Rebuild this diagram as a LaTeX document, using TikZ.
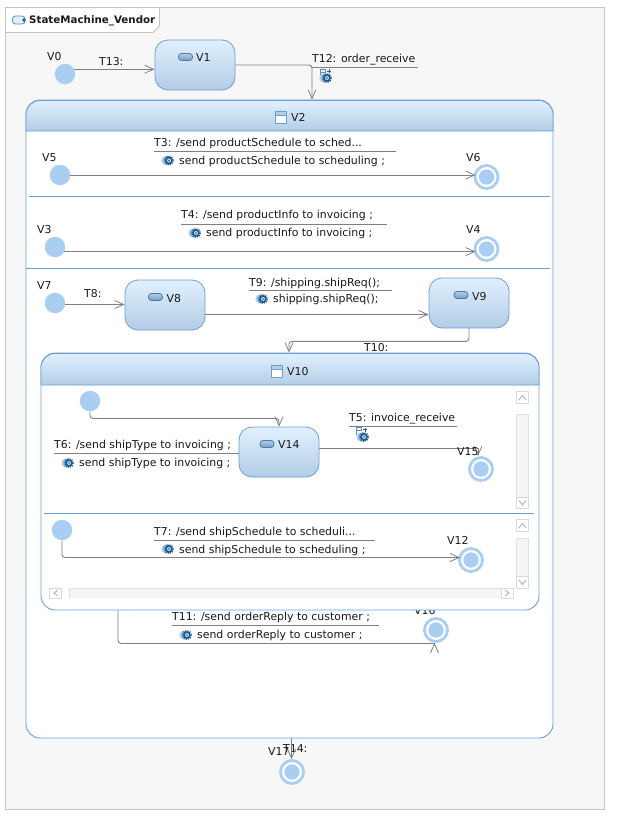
\documentclass[tikz,border=0pt]{standalone}
\usepackage{fontspec}
\setmainfont{DejaVu Sans}
\usetikzlibrary{arrows.meta,calc}
\definecolor{edgeblue}{HTML}{6C9FD6}
\definecolor{fillblue}{HTML}{AACDF2}
\definecolor{gradtop}{HTML}{E1F0FF}
\definecolor{gradbot}{HTML}{B2CDE6}
\definecolor{linegrey}{HTML}{808080}
\definecolor{pagegrey}{HTML}{F7F7F7}
\definecolor{framegrey}{HTML}{C4C4C4}
\definecolor{geardark}{HTML}{1C5A94}
\definecolor{gearlight}{HTML}{94BADB}
\tikzset{
  x=1pt,y=-1pt,
  lbl/.style={anchor=base west,inner sep=0pt,font=\fontsize{10.9}{12}\selectfont,text=black!90},
  initstate/.style={circle,fill=fillblue,minimum size=20.5pt,inner sep=0pt},
  finalstate/.style={circle,draw=fillblue,line width=2.8pt,fill=white,minimum size=23pt,inner sep=0pt,
     path picture={\fill[fillblue] (path picture bounding box.center) circle[radius=7.7pt];}},
  simple/.style={draw=edgeblue,line width=.8pt,rounded corners=13pt,top color=gradtop,bottom color=gradbot,minimum width=80pt,minimum height=50pt,inner sep=0pt},
  region/.style={draw=edgeblue,line width=.9pt,rounded corners=14pt,fill=white,inner sep=0pt},
  header/.style={draw=edgeblue,line width=.8pt,top color=gradtop,bottom color=gradbot},
  trans/.style={draw=linegrey,line width=.9pt,rounded corners=3pt,-{Straight Barb[length=9pt,width=8pt,line width=.8pt]}},
  rulel/.style={draw=linegrey,line width=.9pt},
  divider/.style={draw=edgeblue,line width=.8pt},
  sbtrack/.style={draw=black!12,fill=black!4,line width=.8pt},
  sbbtn/.style={draw=black!15,fill=white,line width=.8pt},
  sbglyph/.style={draw=black!25,line width=1.2pt},
  gear/.pic={
    \fill[gearlight!60] (-3.4,0) circle[radius=4.4];
    \fill[gearlight] (-1.8,0) circle[radius=4.6];
    \fill[geardark] (0,0) circle[radius=3.9];
    \draw[geardark,line width=1.2pt,dash pattern=on 1.1pt off 1.2pt] (0,0) circle[radius=4.4];
    \fill[gearlight!50] (0,0) circle[radius=2];
    \fill[geardark] (0,0) circle[radius=.9];
  },
  flagicon/.pic={
    \draw[geardark!70,line width=.7pt] (-5,5) -- (-5,-2) -- (0,-2) -- (0,1) -- (-5,1);
    \draw[geardark,line width=.8pt] (2,0) -- (6,0) (4,-2) -- (4,2);
  },
  stateicon/.pic={
    \draw[draw=geardark!80,top color=gradbot,bottom color=geardark!60,rounded corners=3pt,line width=.8pt] (-7,-3.5) rectangle (7,3.5);
  },
  regionicon/.pic={
    \draw[edgeblue,fill=white,line width=.8pt] (-5.5,-6) rectangle (5.5,6);
    \fill[gradbot] (-5,-5.5) rectangle (5,-2);
    \draw[edgeblue,line width=.8pt] (-5.5,-2) -- (5.5,-2);
  }
}
\begin{document}
\begin{tikzpicture}
\useasboundingbox (0,0) rectangle (617,820);
\fill[white] (0,0) rectangle (617,820);
% outer canvas
\draw[framegrey,fill=pagegrey,line width=.8pt] (5.5,7.5) rectangle (604.5,809.5);
\draw[framegrey,fill=white,line width=.8pt] (5.5,7.5) -- (159.5,7.5) -- (159.5,26) -- (153,32.5) -- (5.5,32.5) -- cycle;
\draw[draw=geardark!70,fill=gradtop,rounded corners=3pt,line width=.8pt] (12.5,16) rectangle (25,24);
\fill[geardark] (24,20) circle[radius=1.8];
\node[lbl,font=\fontsize{10.3}{12}\selectfont\bfseries] (title) at (29,23) {StateMachine\_Vendor};

% top-level states
\node[initstate] (V0) at (65,74) {};
\node[lbl] (V0l) at (47,60) {V0};
\node[simple] (V1) at (195,65) {};
\pic at (185.5,57) {stateicon};
\node[lbl] (V1l) at (196,61) {V1};

% V2 region
\node[region,minimum width=527pt,minimum height=638pt] (V2) at (289.5,419) {};
\draw[header] (26,131) [rounded corners=14pt] -- (26,100.5) -- (553,100.5) [sharp corners] -- (553,131) -- cycle;
\pic at (281,117) {regionicon};
\node[lbl] (V2l) at (291,121) {V2};
\draw[divider] (29,196.5) -- (550,196.5);
\draw[divider] (26,268.5) -- (550,268.5);

% V2 compartment 1
\node[initstate] (V5) at (60,175) {};
\node[lbl] (V5l) at (42,161) {V5};
\node[finalstate] (V6) at (486.5,177) {};
\node[lbl] (V6l) at (466,161) {V6};
\coordinate (V5out) at (V5.east);
\draw[trans] (V5out) -- ($(V6.west |- V5out)+(2,0)$);
\node[lbl] (T3) at (154,146) {T3: /send productSchedule to sched...};
\coordinate (T3a) at (154,151.5); \coordinate (T3b) at (396,151.5);
\draw[rulel] (T3a) -- (T3b);
\pic at (169,160.5) {gear};
\node[lbl] (T3e) at (179,164) {send productSchedule to scheduling ;};

% V2 compartment 2
\node[initstate] (V3) at (55,247) {};
\node[lbl] (V3l) at (37,233) {V3};
\node[finalstate] (V4) at (486.5,249) {};
\node[lbl] (V4l) at (466,233) {V4};
\coordinate (V3out) at (V3.-26);
\draw[trans] (V3out) -- ($(V4.west |- V3out)+(2,0)$);
\node[lbl] (T4) at (181,218) {T4: /send productInfo to invoicing ;};
\coordinate (T4a) at (181,224.5); \coordinate (T4b) at (387,224.5);
\draw[rulel] (T4a) -- (T4b);
\pic at (196,233) {gear};
\node[lbl] (T4e) at (206,236) {send productInfo to invoicing ;};

% V2 compartment 3
\node[initstate] (V7) at (55,303) {};
\node[lbl] (V7l) at (37,289) {V7};
\node[simple] (V8) at (165,305) {};
\pic at (155.5,297) {stateicon};
\node[lbl] (V8l) at (166.5,302) {V8};
\node[simple] (V9) at (469,303) {};
\pic at (461,295) {stateicon};
\node[lbl] (V9l) at (472,300) {V9};
\coordinate (V7out) at (V7.-8);
\draw[trans] (V7out) -- (V8.west |- V7out);
\node[lbl] (T8) at (84,297) {T8:};
\coordinate (V8out) at (V8.east |- 0,314.5);
\draw[trans] (V8out) -- (V9.west |- V8out);
\node[lbl] (T9) at (249,286) {T9: /shipping.shipReq();};
\coordinate (T9a) at (249,290.5); \coordinate (T9b) at (392,290.5);
\draw[rulel] (T9a) -- (T9b);
\pic at (263,299) {gear};
\node[lbl] (T9e) at (273,302) {shipping.shipReq();};

% V16 label sits behind V10
\node[lbl] (V16l) at (414,614) {V16};

% V10 region
\node[region,minimum width=498pt,minimum height=257pt] (V10) at (290,481.5) {};
\draw[header] (41,385) [rounded corners=14pt] -- (41,353.5) -- (539,353.5) [sharp corners] -- (539,385) -- cycle;
\pic at (277,371) {regionicon};
\node[lbl] (V10l) at (287,375) {V10};
\draw[trans] (V9.south) -- ++(0,13) -| (V10.north -| 289,0);
\node[lbl] (T10) at (364,351) {T10:};
\draw[divider] (44,513.5) -- (534,513.5);

% V10 compartment 1
\node[initstate] (I1) at (90,401) {};
\node[simple] (V14) at (279,452) {};
\pic at (267,444) {stateicon};
\node[lbl] (V14l) at (278,448) {V14};
\draw[trans] (I1.south) -- ++(0,7) -| (V14.north);
\node[lbl] (T6) at (54,448) {T6: /send shipType to invoicing ;};
\coordinate (T6a) at (54,453.5);
\draw[rulel] (T6a) -- (V14.west |- T6a);
\pic at (69,463) {gear};
\node[lbl] (T6e) at (79,466) {send shipType to invoicing ;};
\node[finalstate] (V15) at (481,469) {};
\coordinate (V14out) at (V14.east |- 0,448.5);
\draw[trans,rounded corners=0pt] (V14out) -- (478,448.5) -- (V15.north -| 478,0);
\node[lbl] (V15l) at (457,455) {V15};
\node[lbl] (T5) at (349,421) {T5: invoice\_receive};
\coordinate (T5a) at (349,426.5); \coordinate (T5b) at (457,426.5);
\draw[rulel] (T5a) -- (T5b);
\pic at (361,429.5) {flagicon};
\pic at (364,437) {gear};

% V10 compartment 2
\node[initstate] (I2) at (62,530) {};
\node[finalstate] (V12) at (471,560) {};
\node[lbl] (V12l) at (447,544) {V12};
\coordinate (V12in) at (V12.west |- 0,557.5);
\draw[trans] (I2.south) |- ($(V12in)+(2,0)$);
\node[lbl] (T7) at (154,535) {T7: /send shipSchedule to scheduli...};
\coordinate (T7a) at (154,540.5); \coordinate (T7b) at (375,540.5);
\draw[rulel] (T7a) -- (T7b);
\pic at (169,549) {gear};
\node[lbl] (T7e) at (179,553) {send shipSchedule to scheduling ;};

% scrollbars
\draw[sbbtn] (516.5,391.5) rectangle (528.5,403.5);
\draw[sbglyph] (519,400) -- (522.5,395.5) -- (526,400);
\draw[sbtrack] (516.5,414.5) rectangle (528.5,497);
\draw[sbbtn] (516.5,497) rectangle (528.5,508.5);
\draw[sbglyph] (519,500.5) -- (522.5,505) -- (526,500.5);
\draw[sbbtn] (516.5,519.5) rectangle (528.5,531.5);
\draw[sbglyph] (519,528) -- (522.5,523.5) -- (526,528);
\draw[sbtrack] (516.5,538.5) rectangle (528.5,576.5);
\draw[sbbtn] (516.5,576.5) rectangle (528.5,588);
\draw[sbglyph] (519,580) -- (522.5,584.5) -- (526,580);
\draw[sbbtn] (49.5,588) rectangle (61.5,598);
\draw[sbglyph] (58,590) -- (54,593) -- (58,596);
\fill[black!4] (69.5,588.5) rectangle (501,598);
\draw[black!12,line width=.8pt] (69.5,598) -- (69.5,588.5) -- (501,588.5);
\draw[sbbtn] (501.5,588) rectangle (513,598);
\draw[sbglyph] (505,590) -- (509,593) -- (505,596);

% after V10
\node[finalstate] (V16) at (436,630) {};
\draw[trans] (V10.south -| 118,0) -- (118,643.5) [sharp corners] -- (434.5,643.5) -- (V16.south -| 434.5,0);
\node[lbl] (T11) at (172,620) {T11: /send orderReply to customer ;};
\coordinate (T11a) at (172,625.5); \coordinate (T11b) at (379,625.5);
\draw[rulel] (T11a) -- (T11b);
\pic at (187,635) {gear};
\node[lbl] (T11e) at (197,638) {send orderReply to customer ;};

% top-level transitions
\coordinate (V0out) at (V0.27);
\draw[trans] (V0out) -- (V1.west |- V0out);
\node[lbl] (T13) at (99,65) {T13:};
\coordinate (V1out) at (V1.east);
\draw[trans] (V1out) -| (V2.north -| 312,0);
\node[lbl] (T12) at (312,62) {T12: order\_receive};
\coordinate (T12a) at (312,67.5); \coordinate (T12b) at (418,67.5);
\draw[rulel] (T12a) -- (T12b);
\pic at (325,71) {flagicon};
\pic at (327,78) {gear};

% V17
\node[finalstate] (V17) at (292,772) {};
\node[lbl] (V17l) at (268,755) {V17};
\node[lbl] (T14) at (283,752) {T14:};
\draw[trans] (V2.south -| 291.5,0) -- (V17.north -| 291.5,0);
\end{tikzpicture}
\end{document}
